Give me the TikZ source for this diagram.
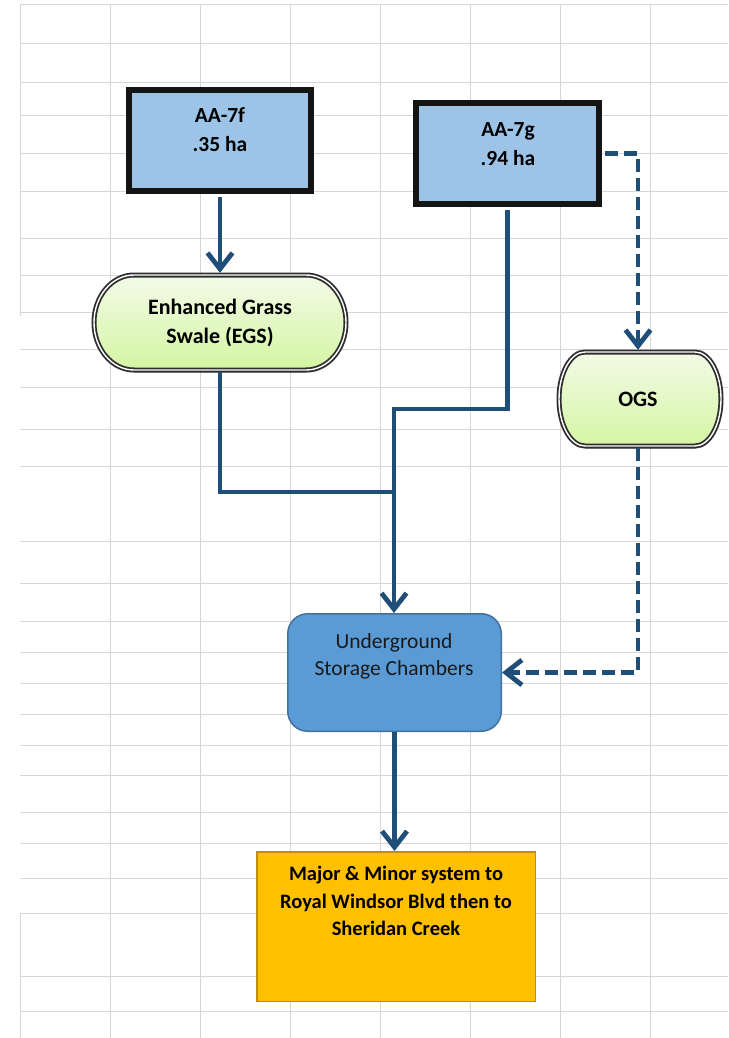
\documentclass[tikz,border=0pt]{standalone}
\usepackage{fontspec}
\setmainfont{Carlito}
\usetikzlibrary{arrows.meta}
\definecolor{gridc}{HTML}{D6D6D6}
\definecolor{boxblue}{HTML}{9DC3E6}
\definecolor{arrowc}{HTML}{1F4E79}
\definecolor{uscfill}{HTML}{5B9BD5}
\definecolor{uscborder}{HTML}{41719C}
\definecolor{orangefill}{HTML}{FFC000}
\definecolor{orangeborder}{HTML}{BF9000}
\definecolor{termtop}{HTML}{F3FBE8}
\definecolor{termbot}{HTML}{D4F5A2}
\definecolor{termborder}{HTML}{2E2E2E}
\tikzset{
  gridline/.style={draw=gridc, line width=1pt},
  srcbox/.style={draw=black!92, line width=6pt, fill=boxblue, inner sep=0pt},
  lbl/.style={font=\bfseries\fontsize{21.5}{29}\selectfont, align=center, inner sep=0pt, text=black},
  termlbl/.style={font=\bfseries\fontsize{22}{29}\selectfont, align=center, inner sep=0pt, text=black},
  termshape/.style={top color=termtop, bottom color=termbot, draw=termborder, line width=1.8pt, double=white, double distance=1.4pt,
    preaction={fill=black, opacity=0.18, transform canvas={shift={(1.5pt,-2.5pt)}}}},
  uscbox/.style={draw=uscborder, line width=1.5pt, fill=uscfill, rounded corners=20pt, inner sep=0pt},
  uscl/.style={font=\fontsize{21.5}{27}\selectfont, align=center, inner sep=0pt, text=black!90},
  outbox/.style={draw=orangeborder, line width=1.5pt, fill=orangefill, inner sep=0pt},
  outl/.style={font=\bfseries\fontsize{20.5}{27.5}\selectfont, align=center, inner sep=0pt, text=black},
  flowline/.style={draw=arrowc, line width=4.8pt},
  flow/.style={flowline, -{Straight Barb[length=16pt,width=25pt]}},
  dflow/.style={flow, dash pattern=on 13pt off 6pt},
}
\begin{document}
\begin{tikzpicture}[x=1pt,y=1pt]
\useasboundingbox (0,0) rectangle (728,-1038);
\fill[white] (0,0) rectangle (728,-1038);
% spreadsheet grid
\foreach \yy in {5,44,83,116,153,191,238,275,312,349,387,429,466,541,583,621,652,683,714,745,775,812,843,878,913,976,1011}
  \draw[gridline] (20,-\yy) -- (728,-\yy);
\foreach \xx in {110,200,290,380,470,560,650}
  \draw[gridline] (\xx,-5) -- (\xx,-1038);
\draw[gridline] (20,-5) -- (20,-316);
\draw[gridline] (20,-913) -- (20,-1038);

% source boxes
\node[srcbox, minimum width=182pt, minimum height=101pt] (a7f) at (220,-140.5) {};
\node[lbl] (a7ft) at (220,-129.5) {AA-7f\\.35 ha};
\node[srcbox, minimum width=183pt, minimum height=101pt] (a7g) at (507.5,-153.5) {};
\node[lbl] (a7gt) at (508,-144) {AA-7g\\.94 ha};

% terminator shapes
\path[termshape] (134,-275) -- (306,-275) arc[start angle=90,end angle=-90,x radius=40,y radius=47.5]
  -- (134,-370) arc[start angle=270,end angle=90,x radius=40,y radius=47.5] -- cycle;
\node[termlbl, minimum width=256pt, minimum height=99pt] (egs) at (220,-322.5) {Enhanced Grass\\Swale (EGS)};
\path[termshape] (585,-352) -- (695,-352) arc[start angle=90,end angle=-90,x radius=26,y radius=47]
  -- (585,-446) arc[start angle=270,end angle=90,x radius=26,y radius=47] -- cycle;
\node[termlbl, minimum width=166pt, minimum height=98pt] (ogs) at (638,-399) {OGS};

% storage chambers
\node[uscbox, minimum width=213.5pt, minimum height=117.5pt] (usc) at (394.5,-672.5) {};
\node[uscl] (usct) at (394,-656) {Underground\\Storage Chambers};

% outlet
\node[outbox, minimum width=278.5pt, minimum height=149.5pt] (out) at (396,-926.5) {};
\node[outl] (outt) at (396,-901) {Major \& Minor system to\\Royal Windsor Blvd then to\\Sheridan Creek};

% connectors
\coordinate (jn) at (394,-492);
\coordinate (bend) at (394,-409);
\draw[flow] ([yshift=-3pt]a7f.south) -- (egs.north);
\draw[flowline] (egs.south) |- (jn);
\draw[flow] ([yshift=-3pt]a7g.south) |- (bend) -- (bend |- usc.north);
\draw[dflow] ([xshift=3pt]a7g.east) -| (ogs.north);
\draw[dflow] (ogs.south) |- (usc.east);
\draw[flow] (usc.south) -- (usc.south |- out.north);
\end{tikzpicture}
\end{document}
